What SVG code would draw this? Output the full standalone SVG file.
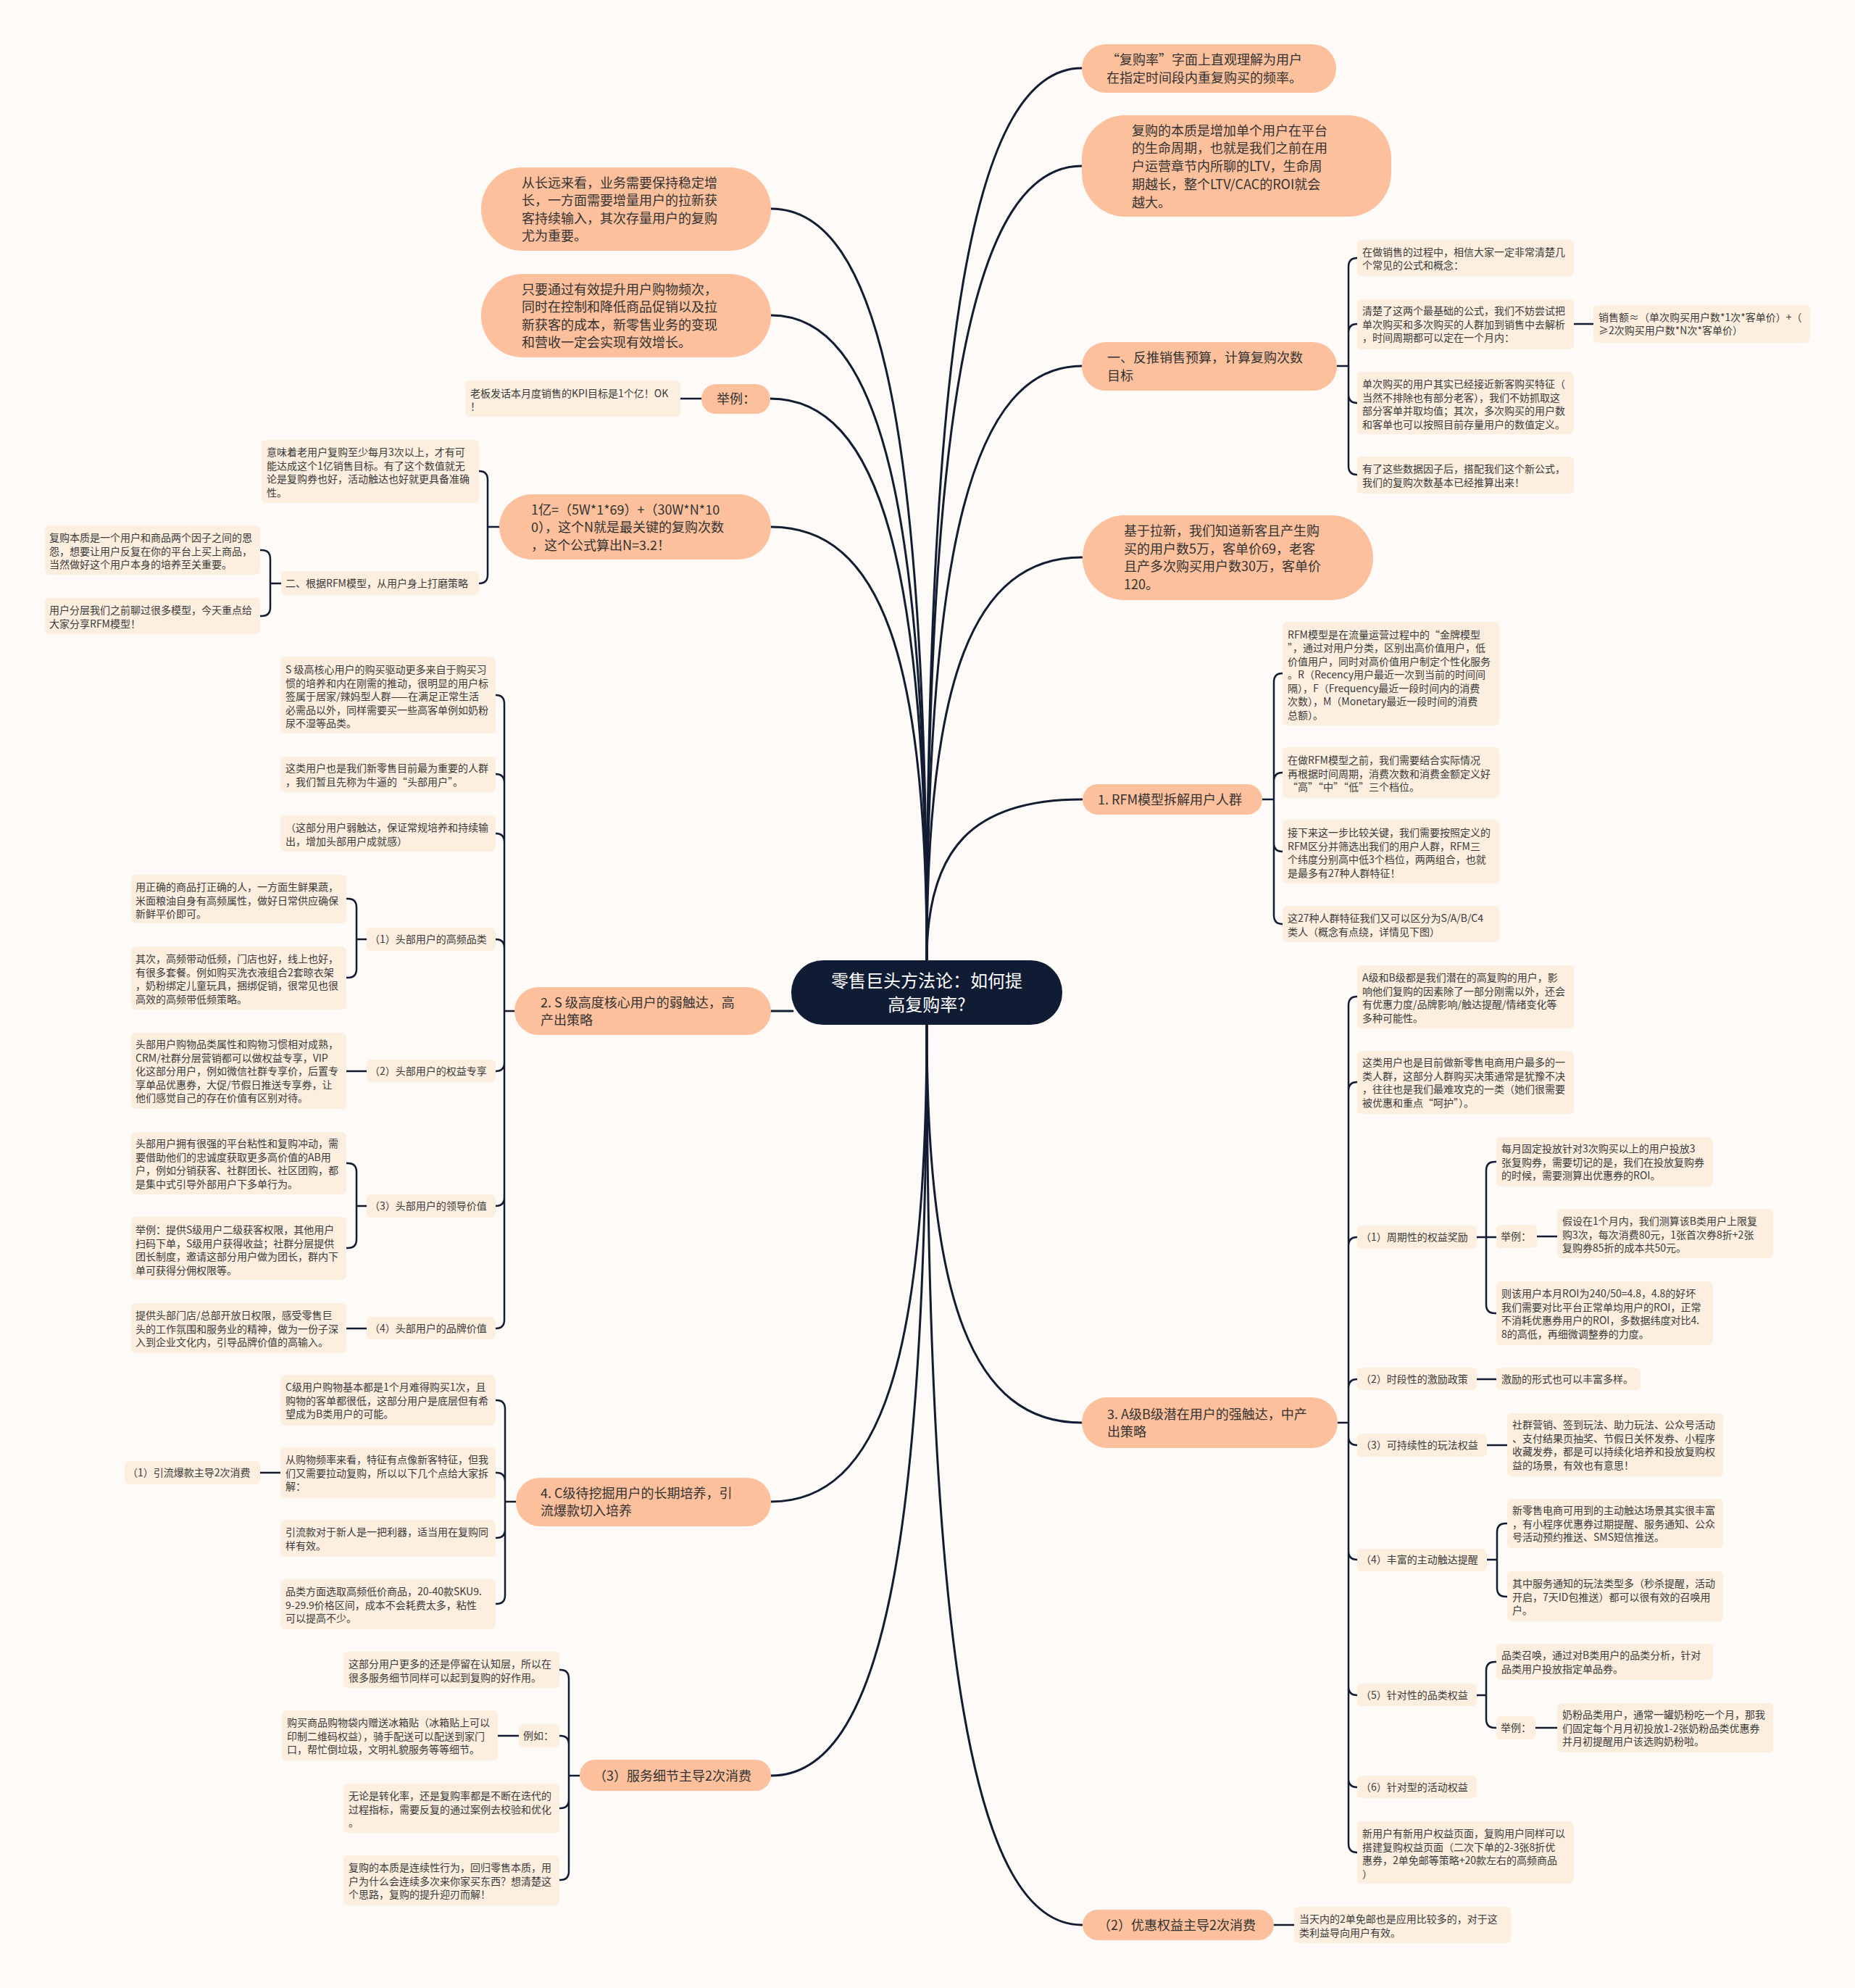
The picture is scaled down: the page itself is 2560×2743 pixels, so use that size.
<svg xmlns="http://www.w3.org/2000/svg" width="2560" height="2743" viewBox="0 0 2560 2743">
<style>
.bg{fill:#fdfaf7}
.l1{fill:#fcc09c}
.lb{fill:#fdefdf}
.cen{fill:#0f1c33}
text{font-family:"Noto Sans CJK SC","Noto Sans",sans-serif}
.t18{font-size:18px;fill:#333}
.t14{font-size:14px;fill:#3a3a3a}
.ct{font-size:24px;fill:#ffffff}
.cn{fill:none;stroke:#121d33;stroke-width:3;stroke-linecap:round}
.br{fill:none;stroke:#121d33;stroke-width:2.5;stroke-linecap:round}
</style>
<rect class="bg" x="0" y="0" width="2560" height="2743"/>

<g id="connectors">
<path class="cn" d="M1279,1325 C1279,463 1343,94 1493,94"/>
<path class="cn" d="M1279,1325 C1279,558 1343,229 1493,229"/>
<path class="cn" d="M1279,1325 C1279,751 1343,505 1493,505"/>
<path class="cn" d="M1279,1325 C1279,936 1343,769 1493,769"/>
<path class="cn" d="M1279,1325 C1279,1170 1343,1103 1493,1103"/>
<path class="cn" d="M1279,1414 C1279,1798 1343,1963 1493,1963"/>
<path class="cn" d="M1279,1414 C1279,2283 1343,2656 1493,2656"/>
<path class="cn" d="M1279,1325 C1279,599 1215,288 1064,288"/>
<path class="cn" d="M1279,1325 C1279,702 1215,435 1064,435"/>
<path class="cn" d="M1279,1325 C1279,783 1215,550 1063,550"/>
<path class="cn" d="M1279,1325 C1279,906 1215,727 1064,727"/>
<path class="cn" d="M1064,1395 H1094"/>
<path class="cn" d="M1279,1414 C1279,1875 1215,2072 1064,2072"/>
<path class="cn" d="M1279,1414 C1279,2139 1215,2450 1064,2450"/>

<path class="br" d="M1845,505 H1861 M1861,505 V368 Q1861,356 1873,356 M1861,505 V459 Q1861,447 1873,447 M1861,505 V544 Q1861,556 1873,556 M1861,505 V643 Q1861,655 1873,655"/>
<path class="br" d="M2172,447 H2199"/>
<path class="br" d="M1742,1103 H1758 M1758,1103 V941 Q1758,929 1770,929 M1758,1103 V1078 Q1758,1066 1770,1066 M1758,1103 V1163 Q1758,1175 1770,1175 M1758,1103 V1263 Q1758,1275 1770,1275"/>
<path class="br" d="M1846,1963 H1861 M1861,1963 V1387 Q1861,1375 1873,1375 M1861,1963 V1505 Q1861,1493 1873,1493 M1861,1963 V1719 Q1861,1707 1873,1707 M1861,1963 V1915 Q1861,1903 1873,1903 M1861,1963 V1982 Q1861,1994 1873,1994 M1861,1963 V2140 Q1861,2152 1873,2152 M1861,1963 V2327 Q1861,2339 1873,2339 M1861,1963 V2454 Q1861,2466 1873,2466 M1861,1963 V2544 Q1861,2556 1873,2556"/>
<path class="br" d="M2038,1707 H2051 M2051,1707 V1615 Q2051,1603 2063,1603 H2065 M2051,1707 H2065 M2051,1707 V1800 Q2051,1812 2063,1812 H2065"/>
<path class="br" d="M2121,1706 H2149"/>
<path class="br" d="M2038,1903 H2065"/>
<path class="br" d="M2052,1994 H2080"/>
<path class="br" d="M2052,2152 H2066 M2066,2152 V2114 Q2066,2102 2078,2102 H2080 M2066,2152 V2191 Q2066,2203 2078,2203 H2080"/>
<path class="br" d="M2038,2339 H2051 M2051,2339 V2305 Q2051,2293 2063,2293 H2065 M2051,2339 V2372 Q2051,2384 2063,2384 H2065"/>
<path class="br" d="M2119,2384 H2149"/>
<path class="br" d="M1758,2656 H1786"/>

<path class="br" d="M968,550 H939"/>
<path class="br" d="M689,727 H673 M673,727 V662 Q673,650 661,650 M673,727 V793 Q673,805 661,805"/>
<path class="br" d="M388,805 H373 M373,805 V771 Q373,759 361,759 H359 M373,805 V838 Q373,850 361,850 H359"/>
<path class="br" d="M710,1395 H696 M696,1395 V971 Q696,959 684,959 M696,1395 V1080 Q696,1068 684,1068 M696,1395 V1162 Q696,1150 684,1150 M696,1395 V1308 Q696,1296 684,1296 M696,1395 V1466 Q696,1478 684,1478 M696,1395 V1652 Q696,1664 684,1664 M696,1395 V1821 Q696,1833 684,1833"/>
<path class="br" d="M506,1296 H492 M492,1296 V1252 Q492,1240 480,1240 H478 M492,1296 V1337 Q492,1349 480,1349 H478"/>
<path class="br" d="M506,1478 H478"/>
<path class="br" d="M506,1664 H492 M492,1664 V1617 Q492,1605 480,1605 H478 M492,1664 V1710 Q492,1722 480,1722 H478"/>
<path class="br" d="M506,1833 H478"/>
<path class="br" d="M712,2072 H697 M697,2072 V1944 Q697,1932 685,1932 H684 M697,2072 V2044 Q697,2032 685,2032 H684 M697,2072 V2110 Q697,2122 685,2122 H684 M697,2072 V2201 Q697,2213 685,2213 H684"/>
<path class="br" d="M387,2032 H359"/>
<path class="br" d="M800,2450 H785 M785,2450 V2316 Q785,2304 773,2304 H772 M785,2450 V2407 Q785,2395 773,2395 H772 M785,2450 V2483 Q785,2495 773,2495 H772 M785,2450 V2582 Q785,2594 773,2594 H772"/>
<path class="br" d="M716,2395 H687"/>
</g>

<g id="center">
<rect class="cen" x="1092" y="1325" width="374" height="89" rx="44"/>
<text class="ct" text-anchor="middle"><tspan x="1279" y="1361.5">零售巨头方法论：如何提</tspan><tspan x="1279" y="1394.5">高复购率?</tspan></text>
</g>

<g id="n1"><rect class="l1" x="1493" y="61" width="351" height="67" rx="33"/>
<text class="t18"><tspan x="1527" y="88.5">“复购率”字面上直观理解为用户</tspan><tspan x="1527" y="113.5">在指定时间段内重复购买的频率。</tspan></text></g>
<g id="n2"><rect class="l1" x="1493" y="159" width="427" height="140" rx="60"/>
<text class="t18"><tspan x="1562" y="186.5">复购的本质是增加单个用户在平台</tspan><tspan x="1562" y="211.3">的生命周期，也就是我们之前在用</tspan><tspan x="1562" y="236">户运营章节内所聊的LTV，生命周</tspan><tspan x="1562" y="260.8">期越长，整个LTV/CAC的ROI就会</tspan><tspan x="1562" y="285.5">越大。</tspan></text></g>
<g id="n3"><rect class="l1" x="1493" y="472" width="352" height="67" rx="33"/>
<text class="t18"><tspan x="1528" y="500">一、反推销售预算，计算复购次数</tspan><tspan x="1528" y="524.5">目标</tspan></text></g>
<g id="n4"><rect class="l1" x="1494" y="711" width="401" height="117" rx="58"/>
<text class="t18"><tspan x="1551" y="739">基于拉新，我们知道新客且产生购</tspan><tspan x="1551" y="763.5">买的用户数5万，客单价69，老客</tspan><tspan x="1551" y="788">且产多次购买用户数30万，客单价</tspan><tspan x="1551" y="812.5">120。</tspan></text></g>
<g id="n5"><rect class="l1" x="1494" y="1082" width="248" height="42" rx="21"/>
<text class="t18" x="1515" y="1109.5">1. RFM模型拆解用户人群</text></g>
<g id="n6"><rect class="l1" x="1493" y="1928" width="353" height="70" rx="35"/>
<text class="t18"><tspan x="1528" y="1957.5">3. A级B级潜在用户的强触达，中产</tspan><tspan x="1528" y="1982">出策略</tspan></text></g>
<g id="n7"><rect class="l1" x="1494" y="2635" width="264" height="42" rx="21"/>
<text class="t18" x="1515" y="2662.5">（2）优惠权益主导2次消费</text></g>

<g id="nl1"><rect class="l1" x="664" y="231" width="400" height="115" rx="57"/>
<text class="t18"><tspan x="720" y="258.5">从长远来看，业务需要保持稳定增</tspan><tspan x="720" y="283">长，一方面需要增量用户的拉新获</tspan><tspan x="720" y="307.5">客持续输入，其次存量用户的复购</tspan><tspan x="720" y="332">尤为重要。</tspan></text></g>
<g id="nl2"><rect class="l1" x="664" y="378" width="400" height="115" rx="57"/>
<text class="t18"><tspan x="720" y="405.5">只要通过有效提升用户购物频次，</tspan><tspan x="720" y="430">同时在控制和降低商品促销以及拉</tspan><tspan x="720" y="454.5">新获客的成本，新零售业务的变现</tspan><tspan x="720" y="479">和营收一定会实现有效增长。</tspan></text></g>
<g id="nl3"><rect class="l1" x="968" y="530" width="95" height="41" rx="20"/>
<text class="t18" x="989" y="556.5">举例：</text></g>
<g id="nl4"><rect class="l1" x="689" y="682" width="375" height="90" rx="45"/>
<text class="t18"><tspan x="733" y="709.5">1亿=（5W*1*69）+（30W*N*10</tspan><tspan x="733" y="733.5">0），这个N就是最关键的复购次数</tspan><tspan x="733" y="758.5">，这个公式算出N=3.2！</tspan></text></g>
<g id="nl5"><rect class="l1" x="710" y="1362" width="354" height="66" rx="33"/>
<text class="t18"><tspan x="746" y="1389.5">2. S 级高度核心用户的弱触达，高</tspan><tspan x="746" y="1413.5">产出策略</tspan></text></g>
<g id="nl6"><rect class="l1" x="712" y="2039" width="352" height="67" rx="33"/>
<text class="t18"><tspan x="746" y="2066.5">4. C级待挖掘用户的长期培养，引</tspan><tspan x="746" y="2090.5">流爆款切入培养</tspan></text></g>
<g id="nl7"><rect class="l1" x="800" y="2428" width="264" height="43" rx="21"/>
<text class="t18" x="819" y="2456.5">（3）服务细节主导2次消费</text></g>

<g id="ra"><rect class="lb" x="1873" y="331" width="299" height="50" rx="6"/>
<text class="t14"><tspan x="1880" y="353">在做销售的过程中，相信大家一定非常清楚几</tspan><tspan x="1880" y="371">个常见的公式和概念：</tspan></text></g>
<g id="rb"><rect class="lb" x="1873" y="413" width="299" height="69" rx="6"/>
<text class="t14"><tspan x="1880" y="434">清楚了这两个最基础的公式，我们不妨尝试把</tspan><tspan x="1880" y="452.5">单次购买和多次购买的人群加到销售中去解析</tspan><tspan x="1880" y="471">，时间周期都可以定在一个月内：</tspan></text></g>
<g id="rb1"><rect class="lb" x="2199" y="421" width="299" height="52" rx="6"/>
<text class="t14"><tspan x="2206" y="443">销售额≈（单次购买用户数*1次*客单价）+（</tspan><tspan x="2206" y="461">≥2次购买用户数*N次*客单价）</tspan></text></g>
<g id="rc"><rect class="lb" x="1873" y="513" width="299" height="86" rx="6"/>
<text class="t14"><tspan x="1880" y="535">单次购买的用户其实已经接近新客购买特征（</tspan><tspan x="1880" y="553.5">当然不排除也有部分老客），我们不妨抓取这</tspan><tspan x="1880" y="572">部分客单并取均值；其次，多次购买的用户数</tspan><tspan x="1880" y="590.5">和客单也可以按照目前存量用户的数值定义。</tspan></text></g>
<g id="rd"><rect class="lb" x="1873" y="630" width="299" height="51" rx="6"/>
<text class="t14"><tspan x="1880" y="652">有了这些数据因子后，搭配我们这个新公式，</tspan><tspan x="1880" y="670.5">我们的复购次数基本已经推算出来！</tspan></text></g>

<g id="re"><rect class="lb" x="1770" y="858" width="299" height="143" rx="6"/>
<text class="t14"><tspan x="1777" y="880.5">RFM模型是在流量运营过程中的“金牌模型</tspan><tspan x="1777" y="899">”，通过对用户分类，区别出高价值用户，低</tspan><tspan x="1777" y="917.5">价值用户，同时对高价值用户制定个性化服务</tspan><tspan x="1777" y="936">。R（Recency用户最近一次到当前的时间间</tspan><tspan x="1777" y="954.5">隔），F（Frequency最近一段时间内的消费</tspan><tspan x="1777" y="973">次数），M（Monetary最近一段时间的消费</tspan><tspan x="1777" y="991.5">总额）。</tspan></text></g>
<g id="rf"><rect class="lb" x="1770" y="1031" width="299" height="70" rx="6"/>
<text class="t14"><tspan x="1777" y="1054">在做RFM模型之前，我们需要结合实际情况</tspan><tspan x="1777" y="1072.5">再根据时间周期，消费次数和消费金额定义好</tspan><tspan x="1777" y="1091">“高”“中”“低”三个档位。</tspan></text></g>
<g id="rg"><rect class="lb" x="1770" y="1131" width="299" height="88" rx="6"/>
<text class="t14"><tspan x="1777" y="1154">接下来这一步比较关键，我们需要按照定义的</tspan><tspan x="1777" y="1172.5">RFM区分并筛选出我们的用户人群，RFM三</tspan><tspan x="1777" y="1191">个纬度分别高中低3个档位，两两组合，也就</tspan><tspan x="1777" y="1209.5">是最多有27种人群特征！</tspan></text></g>
<g id="rh"><rect class="lb" x="1770" y="1250" width="299" height="50" rx="6"/>
<text class="t14"><tspan x="1777" y="1272">这27种人群特征我们又可以区分为S/A/B/C4</tspan><tspan x="1777" y="1290.5">类人（概念有点绕，详情见下图）</tspan></text></g>

<g id="ri"><rect class="lb" x="1873" y="1332" width="299" height="87" rx="6"/>
<text class="t14"><tspan x="1880" y="1354">A级和B级都是我们潜在的高复购的用户，影</tspan><tspan x="1880" y="1372.5">响他们复购的因素除了一部分刚需以外，还会</tspan><tspan x="1880" y="1391">有优惠力度/品牌影响/触达提醒/情绪变化等</tspan><tspan x="1880" y="1409.5">多种可能性。</tspan></text></g>
<g id="rj"><rect class="lb" x="1873" y="1450" width="299" height="87" rx="6"/>
<text class="t14"><tspan x="1880" y="1471">这类用户也是目前做新零售电商用户最多的一</tspan><tspan x="1880" y="1489.5">类人群，这部分人群购买决策通常是犹豫不决</tspan><tspan x="1880" y="1508">，往往也是我们最难攻克的一类（她们很需要</tspan><tspan x="1880" y="1526.5">被优惠和重点“呵护”）。</tspan></text></g>
<g id="rk"><rect class="lb" x="1873" y="1691" width="165" height="32" rx="6"/>
<text class="t14" x="1878" y="1712">（1）周期性的权益奖励</text></g>
<g id="rk1"><rect class="lb" x="2065" y="1569" width="299" height="68" rx="6"/>
<text class="t14"><tspan x="2072" y="1590">每月固定投放针对3次购买以上的用户投放3</tspan><tspan x="2072" y="1608.5">张复购券，需要切记的是，我们在投放复购券</tspan><tspan x="2072" y="1627">的时候，需要测算出优惠券的ROI。</tspan></text></g>
<g id="rk2"><rect class="lb" x="2065" y="1690" width="56" height="32" rx="6"/>
<text class="t14" x="2071" y="1711">举例：</text></g>
<g id="rk2a"><rect class="lb" x="2149" y="1668" width="298" height="68" rx="6"/>
<text class="t14"><tspan x="2156" y="1690">假设在1个月内，我们测算该B类用户上限复</tspan><tspan x="2156" y="1708.5">购3次，每次消费80元，1张首次券8折+2张</tspan><tspan x="2156" y="1727">复购券85折的成本共50元。</tspan></text></g>
<g id="rk3"><rect class="lb" x="2065" y="1768" width="299" height="88" rx="6"/>
<text class="t14"><tspan x="2072" y="1790">则该用户本月ROI为240/50=4.8，4.8的好坏</tspan><tspan x="2072" y="1808.5">我们需要对比平台正常单均用户的ROI，正常</tspan><tspan x="2072" y="1827">不消耗优惠券用户的ROI，多数据纬度对比4.</tspan><tspan x="2072" y="1845.5">8的高低，再细微调整券的力度。</tspan></text></g>
<g id="rl"><rect class="lb" x="1873" y="1887" width="165" height="31" rx="6"/>
<text class="t14" x="1878" y="1908">（2）时段性的激励政策</text></g>
<g id="rl1"><rect class="lb" x="2065" y="1887" width="199" height="31" rx="6"/>
<text class="t14" x="2072" y="1908">激励的形式也可以丰富多样。</text></g>
<g id="rm"><rect class="lb" x="1873" y="1978" width="179" height="32" rx="6"/>
<text class="t14" x="1878" y="1999">（3）可持续性的玩法权益</text></g>
<g id="rm1"><rect class="lb" x="2080" y="1950" width="298" height="87" rx="6"/>
<text class="t14"><tspan x="2087" y="1971">社群营销、签到玩法、助力玩法、公众号活动</tspan><tspan x="2087" y="1989.5">、支付结果页抽奖、节假日关怀发券、小程序</tspan><tspan x="2087" y="2008">收藏发券，都是可以持续化培养和投放复购权</tspan><tspan x="2087" y="2026.5">益的场景，有效也有意思！</tspan></text></g>
<g id="rn"><rect class="lb" x="1873" y="2137" width="179" height="31" rx="6"/>
<text class="t14" x="1878" y="2157">（4）丰富的主动触达提醒</text></g>
<g id="rn1"><rect class="lb" x="2080" y="2068" width="298" height="68" rx="6"/>
<text class="t14"><tspan x="2087" y="2089">新零售电商可用到的主动触达场景其实很丰富</tspan><tspan x="2087" y="2107.5">，有小程序优惠券过期提醒、服务通知、公众</tspan><tspan x="2087" y="2126">号活动预约推送、SMS短信推送。</tspan></text></g>
<g id="rn2"><rect class="lb" x="2080" y="2168" width="298" height="69" rx="6"/>
<text class="t14"><tspan x="2087" y="2190">其中服务通知的玩法类型多（秒杀提醒，活动</tspan><tspan x="2087" y="2208.5">开启，7天ID包推送）都可以很有效的召唤用</tspan><tspan x="2087" y="2227">户。</tspan></text></g>
<g id="ro"><rect class="lb" x="1873" y="2323" width="165" height="31" rx="6"/>
<text class="t14" x="1878" y="2344">（5）针对性的品类权益</text></g>
<g id="ro1"><rect class="lb" x="2065" y="2268" width="299" height="50" rx="6"/>
<text class="t14"><tspan x="2072" y="2289">品类召唤，通过对B类用户的品类分析，针对</tspan><tspan x="2072" y="2307.5">品类用户投放指定单品券。</tspan></text></g>
<g id="ro2"><rect class="lb" x="2065" y="2368" width="54" height="32" rx="6"/>
<text class="t14" x="2071" y="2389">举例：</text></g>
<g id="ro2a"><rect class="lb" x="2149" y="2350" width="298" height="68" rx="6"/>
<text class="t14"><tspan x="2156" y="2371">奶粉品类用户，通常一罐奶粉吃一个月，那我</tspan><tspan x="2156" y="2389.5">们固定每个月月初投放1-2张奶粉品类优惠券</tspan><tspan x="2156" y="2408">并月初提醒用户该选购奶粉啦。</tspan></text></g>
<g id="rp"><rect class="lb" x="1873" y="2450" width="165" height="31" rx="6"/>
<text class="t14" x="1878" y="2471">（6）针对型的活动权益</text></g>
<g id="rq"><rect class="lb" x="1873" y="2513" width="299" height="86" rx="6"/>
<text class="t14"><tspan x="1880" y="2535">新用户有新用户权益页面，复购用户同样可以</tspan><tspan x="1880" y="2553.5">搭建复购权益页面（二次下单的2-3张8折优</tspan><tspan x="1880" y="2572">惠券，2单免邮等策略+20款左右的高频商品</tspan><tspan x="1880" y="2590.5">）</tspan></text></g>
<g id="rr"><rect class="lb" x="1786" y="2631" width="299" height="50" rx="6"/>
<text class="t14"><tspan x="1793" y="2653">当天内的2单免邮也是应用比较多的，对于这</tspan><tspan x="1793" y="2671.5">类利益导向用户有效。</tspan></text></g>

<g id="la"><rect class="lb" x="642" y="525" width="297" height="50" rx="6"/>
<text class="t14"><tspan x="649" y="548">老板发话本月度销售的KPI目标是1个亿！OK</tspan><tspan x="649" y="566">！</tspan></text></g>
<g id="lb"><rect class="lb" x="361" y="607" width="300" height="87" rx="6"/>
<text class="t14"><tspan x="368" y="629">意味着老用户复购至少每月3次以上，才有可</tspan><tspan x="368" y="647.5">能达成这个1亿销售目标。有了这个数值就无</tspan><tspan x="368" y="666">论是复购券也好，活动触达也好就更具备准确</tspan><tspan x="368" y="684.5">性。</tspan></text></g>
<g id="lc"><rect class="lb" x="388" y="788" width="273" height="33" rx="6"/>
<text class="t14" x="394" y="810">二、根据RFM模型，从用户身上打磨策略</text></g>
<g id="ld"><rect class="lb" x="62" y="725" width="297" height="68" rx="6"/>
<text class="t14"><tspan x="68" y="747">复购本质是一个用户和商品两个因子之间的恩</tspan><tspan x="68" y="765.5">怨，想要让用户反复在你的平台上买上商品，</tspan><tspan x="68" y="784">当然做好这个用户本身的培养至关重要。</tspan></text></g>
<g id="le"><rect class="lb" x="62" y="825" width="297" height="50" rx="6"/>
<text class="t14"><tspan x="68" y="847">用户分层我们之前聊过很多模型，今天重点给</tspan><tspan x="68" y="865.5">大家分享RFM模型！</tspan></text></g>

<g id="lf"><rect class="lb" x="387" y="906" width="297" height="106" rx="6"/>
<text class="t14"><tspan x="394" y="929">S 级高核心用户的购买驱动更多来自于购买习</tspan><tspan x="394" y="947.5">惯的培养和内在刚需的推动，很明显的用户标</tspan><tspan x="394" y="966">签属于居家/辣妈型人群——在满足正常生活</tspan><tspan x="394" y="984.5">必需品以外，同样需要买一些高客单例如奶粉</tspan><tspan x="394" y="1003">尿不湿等品类。</tspan></text></g>
<g id="lg"><rect class="lb" x="387" y="1044" width="297" height="49" rx="6"/>
<text class="t14"><tspan x="394" y="1065">这类用户也是我们新零售目前最为重要的人群</tspan><tspan x="394" y="1083.5">，我们暂且先称为牛逼的“头部用户”。</tspan></text></g>
<g id="lh"><rect class="lb" x="387" y="1125" width="297" height="50" rx="6"/>
<text class="t14"><tspan x="394" y="1147">（这部分用户弱触达，保证常规培养和持续输</tspan><tspan x="394" y="1165.5">出，增加头部用户成就感）</tspan></text></g>
<g id="li"><rect class="lb" x="506" y="1280" width="178" height="32" rx="6"/>
<text class="t14" x="510" y="1301">（1）头部用户的高频品类</text></g>
<g id="li1"><rect class="lb" x="181" y="1207" width="297" height="67" rx="6"/>
<text class="t14"><tspan x="187" y="1229">用正确的商品打正确的人，一方面生鲜果蔬，</tspan><tspan x="187" y="1247.5">米面粮油自身有高频属性，做好日常供应确保</tspan><tspan x="187" y="1266">新鲜平价即可。</tspan></text></g>
<g id="li2"><rect class="lb" x="181" y="1306" width="297" height="87" rx="6"/>
<text class="t14"><tspan x="187" y="1328">其次，高频带动低频，门店也好，线上也好，</tspan><tspan x="187" y="1346.5">有很多套餐。例如购买洗衣液组合2套晾衣架</tspan><tspan x="187" y="1365">，奶粉绑定儿童玩具，捆绑促销，很常见也很</tspan><tspan x="187" y="1383.5">高效的高频带低频策略。</tspan></text></g>
<g id="lj"><rect class="lb" x="506" y="1462" width="178" height="31" rx="6"/>
<text class="t14" x="510" y="1483">（2）头部用户的权益专享</text></g>
<g id="lj1"><rect class="lb" x="181" y="1425" width="297" height="105" rx="6"/>
<text class="t14"><tspan x="187" y="1446">头部用户购物品类属性和购物习惯相对成熟，</tspan><tspan x="187" y="1464.5">CRM/社群分层营销都可以做权益专享，VIP</tspan><tspan x="187" y="1483">化这部分用户，例如微信社群专享价，后置专</tspan><tspan x="187" y="1501.5">享单品优惠券，大促/节假日推送专享券，让</tspan><tspan x="187" y="1520">他们感觉自己的存在价值有区别对待。</tspan></text></g>
<g id="lk"><rect class="lb" x="506" y="1648" width="178" height="32" rx="6"/>
<text class="t14" x="510" y="1669">（3）头部用户的领导价值</text></g>
<g id="lk1"><rect class="lb" x="181" y="1562" width="297" height="86" rx="6"/>
<text class="t14"><tspan x="187" y="1583">头部用户拥有很强的平台粘性和复购冲动，需</tspan><tspan x="187" y="1601.5">要借助他们的忠诚度获取更多高价值的AB用</tspan><tspan x="187" y="1620">户，例如分销获客、社群团长、社区团购，都</tspan><tspan x="187" y="1638.5">是集中式引导外部用户下多单行为。</tspan></text></g>
<g id="lk2"><rect class="lb" x="181" y="1679" width="297" height="87" rx="6"/>
<text class="t14"><tspan x="187" y="1702">举例：提供S级用户二级获客权限，其他用户</tspan><tspan x="187" y="1720.5">扫码下单，S级用户获得收益；社群分层提供</tspan><tspan x="187" y="1739">团长制度，邀请这部分用户做为团长，群内下</tspan><tspan x="187" y="1757.5">单可获得分佣权限等。</tspan></text></g>
<g id="ll"><rect class="lb" x="506" y="1817" width="178" height="31" rx="6"/>
<text class="t14" x="510" y="1838">（4）头部用户的品牌价值</text></g>
<g id="ll1"><rect class="lb" x="181" y="1798" width="297" height="69" rx="6"/>
<text class="t14"><tspan x="187" y="1820">提供头部门店/总部开放日权限，感受零售巨</tspan><tspan x="187" y="1838.5">头的工作氛围和服务业的精神，做为一份子深</tspan><tspan x="187" y="1857">入到企业文化内，引导品牌价值的高输入。</tspan></text></g>

<g id="lm"><rect class="lb" x="387" y="1897" width="297" height="70" rx="6"/>
<text class="t14"><tspan x="394" y="1919">C级用户购物基本都是1个月难得购买1次，且</tspan><tspan x="394" y="1937.5">购物的客单都很低，这部分用户是底层但有希</tspan><tspan x="394" y="1956">望成为B类用户的可能。</tspan></text></g>
<g id="ln"><rect class="lb" x="387" y="1997" width="297" height="70" rx="6"/>
<text class="t14"><tspan x="394" y="2019">从购物频率来看，特征有点像新客特征，但我</tspan><tspan x="394" y="2037.5">们又需要拉动复购，所以以下几个点给大家拆</tspan><tspan x="394" y="2056">解：</tspan></text></g>
<g id="ln1"><rect class="lb" x="172" y="2016" width="187" height="32" rx="6"/>
<text class="t14" x="176" y="2037">（1）引流爆款主导2次消费</text></g>
<g id="lo"><rect class="lb" x="387" y="2097" width="297" height="51" rx="6"/>
<text class="t14"><tspan x="394" y="2119">引流款对于新人是一把利器，适当用在复购同</tspan><tspan x="394" y="2137.5">样有效。</tspan></text></g>
<g id="lp"><rect class="lb" x="387" y="2179" width="297" height="69" rx="6"/>
<text class="t14"><tspan x="394" y="2201">品类方面选取高频低价商品，20-40款SKU9.</tspan><tspan x="394" y="2219.5">9-29.9价格区间，成本不会耗费太多，粘性</tspan><tspan x="394" y="2238">可以提高不少。</tspan></text></g>

<g id="lq"><rect class="lb" x="474" y="2279" width="298" height="50" rx="6"/>
<text class="t14"><tspan x="481" y="2301">这部分用户更多的还是停留在认知层，所以在</tspan><tspan x="481" y="2319.5">很多服务细节同样可以起到复购的好作用。</tspan></text></g>
<g id="lr"><rect class="lb" x="716" y="2379" width="56" height="32" rx="6"/>
<text class="t14" x="722" y="2400">例如：</text></g>
<g id="lr1"><rect class="lb" x="389" y="2360" width="298" height="69" rx="6"/>
<text class="t14"><tspan x="396" y="2382">购买商品购物袋内赠送冰箱贴（冰箱贴上可以</tspan><tspan x="396" y="2400.5">印制二维码权益），骑手配送可以配送到家门</tspan><tspan x="396" y="2419">口，帮忙倒垃圾，文明礼貌服务等等细节。</tspan></text></g>
<g id="ls"><rect class="lb" x="474" y="2461" width="298" height="68" rx="6"/>
<text class="t14"><tspan x="481" y="2483">无论是转化率，还是复购率都是不断在迭代的</tspan><tspan x="481" y="2501.5">过程指标，需要反复的通过案例去校验和优化</tspan><tspan x="481" y="2520">。</tspan></text></g>
<g id="lt"><rect class="lb" x="474" y="2560" width="298" height="69" rx="6"/>
<text class="t14"><tspan x="481" y="2582">复购的本质是连续性行为，回归零售本质，用</tspan><tspan x="481" y="2600.5">户为什么会连续多次来你家买东西？想清楚这</tspan><tspan x="481" y="2619">个思路，复购的提升迎刃而解！</tspan></text></g>
</svg>
